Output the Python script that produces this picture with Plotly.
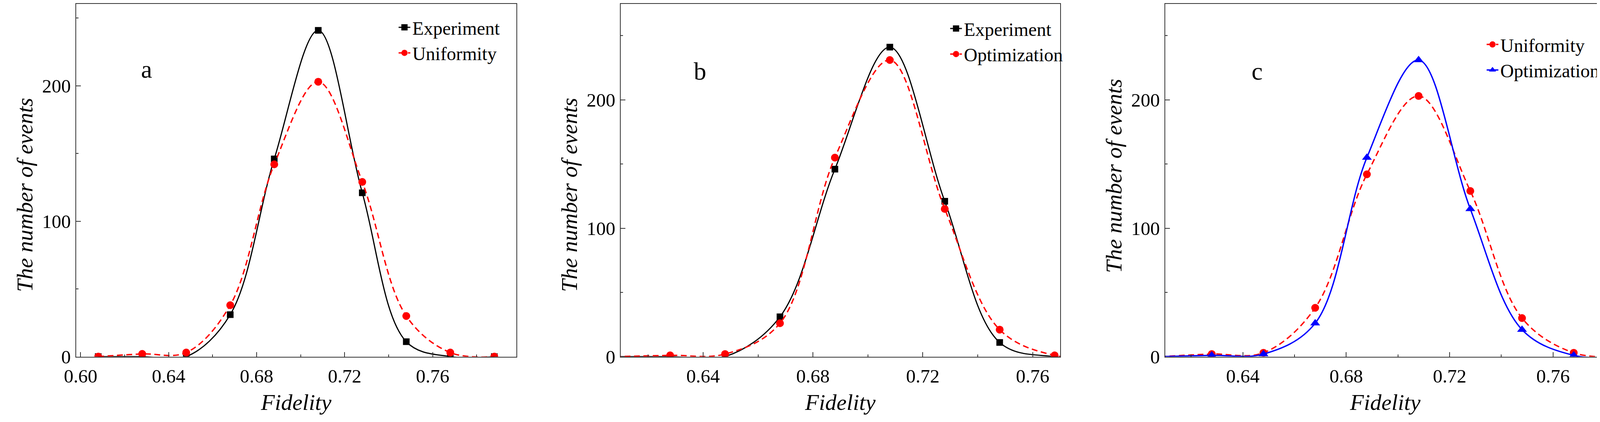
import plotly.graph_objects as go

W, H = 4156, 1081

# bin centres and counts
fidelity = [0.608, 0.628, 0.648, 0.668, 0.688, 0.708, 0.728, 0.748, 0.768, 0.788]
experiment = [0, 0, 0, 31, 146, 241, 121, 11, 0, 0]
uniformity = [0, 2, 3, 38, 142, 203, 129, 30, 3, 0]
optimization = [0, 1, 2, 26, 155, 231, 115, 21, 1, 0]

x_ticks = [0.60, 0.64, 0.68, 0.72, 0.76]
y_ticks = [0, 100, 200]

FONT = 'Liberation Serif'
AXIS_COL = '#333333'

black_sq = dict(line=dict(color='black', width=3, shape='spline'),
                marker=dict(symbol='square', size=17, color='black'))
red_dash = dict(line=dict(color='#ff0000', width=3.5, dash='15px,9px', shape='spline'),
                marker=dict(symbol='circle', size=20, color='#ff0000'))
blue_tri = dict(line=dict(color='#0000ff', width=3.5, shape='spline'),
                marker=dict(symbol='triangle-up', size=22, color='#0000ff'))


def px(v):
    return v / W


def py(v):
    return 1 - v / H


panels = [
    dict(series=[('Experiment', experiment, black_sq), ('Uniformity', uniformity, red_dash)],
         xr=[0.598, 0.798], yr=[0, 260.5], dom=[156.25, 1291.7],
         label='a', lab_xy=(338, 172), ytitle_y=503, leg=(983, 23)),
    dict(series=[('Experiment', experiment, black_sq), ('Optimization', optimization, red_dash)],
         xr=[0.61, 0.77], yr=[0, 274.7], dom=[1561, 2694.6],
         label='b', lab_xy=(1766, 177), ytitle_y=503, leg=(2406, 26)),
    dict(series=[('Uniformity', uniformity, red_dash), ('Optimization', optimization, blue_tri)],
         xr=[0.61, 0.78], yr=[0, 274.7], dom=[2965.8, 4099.75],
         label='c', lab_xy=(3203, 177), ytitle_y=453, leg=(3790, 68)),
]

fig = go.Figure()
layout = dict(width=W, height=H, margin=dict(l=0, r=0, t=0, b=0),
              plot_bgcolor='white', paper_bgcolor='white',
              font=dict(family=FONT, color='black'), annotations=[])

for i, p in enumerate(panels):
    n = '' if i == 0 else str(i + 1)
    leg = 'legend' + n
    for name, vals, st in p['series']:
        fig.add_trace(go.Scatter(x=fidelity, y=vals, name=name, mode='lines+markers',
                                 line=st['line'], marker=st['marker'],
                                 xaxis='x' + n, yaxis='y' + n, legend=leg))

    common = dict(showgrid=False, zeroline=False, showline=True, mirror=True,
                  linecolor=AXIS_COL, linewidth=2, ticks='inside', ticklen=12,
                  tickwidth=2, tickcolor=AXIS_COL,
                  tickfont=dict(family=FONT, size=49, color='black'))
    layout['xaxis' + n] = dict(common, domain=[px(p['dom'][0]), px(p['dom'][1])],
                               range=p['xr'], anchor='y' + n, tickvals=x_ticks,
                               tickformat='.2f', ticklabelstandoff=6,
                               minor=dict(tick0=0.60, dtick=0.02, ticks='inside', ticklen=6,
                                          tickwidth=2, tickcolor=AXIS_COL))
    layout['yaxis' + n] = dict(common, domain=[py(929.3), 1], range=p['yr'],
                               anchor='x' + n, tickvals=y_ticks, ticklabelstandoff=2,
                               minor=dict(tick0=0, dtick=50, ticks='inside', ticklen=6,
                                          tickwidth=2, tickcolor=AXIS_COL))
    layout[leg] = dict(x=px(p['leg'][0]), y=py(p['leg'][1]), xanchor='left', yanchor='top',
                       bgcolor='rgba(0,0,0,0)', font=dict(family=FONT, size=48),
                       tracegroupgap=0)

    mid = (p['dom'][0] + p['dom'][1]) / 2
    layout['annotations'] += [
        dict(text=p['label'], x=px(p['lab_xy'][0]), y=py(p['lab_xy'][1]),
             xref='paper', yref='paper', showarrow=False, xanchor='center', yanchor='middle',
             font=dict(family=FONT, size=64)),
        dict(text='Fidelity', x=px(mid), y=py(1050), xref='paper', yref='paper',
             showarrow=False, xanchor='center', yanchor='middle',
             font=dict(family=FONT, size=58, style='italic')),
        dict(text='The number of events', x=px(p['dom'][0] - 133), y=py(p['ytitle_y']),
             xref='paper', yref='paper', showarrow=False, textangle=-90,
             xanchor='center', yanchor='middle',
             font=dict(family=FONT, size=58, style='italic')),
    ]

fig.update_layout(**layout)
fig.write_html("out.html")
